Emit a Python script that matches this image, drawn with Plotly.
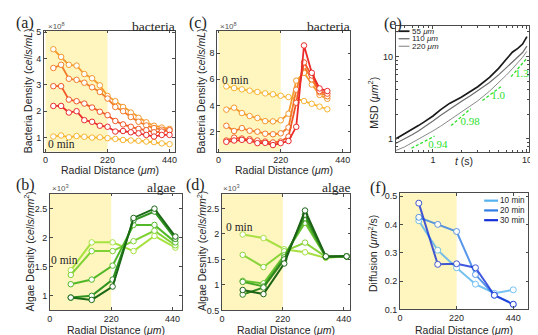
import plotly.graph_objects as go

W, H = 538, 335
SANS = "Liberation Sans, Arial, sans-serif"
SERIF = "Liberation Serif, Times New Roman, serif"
INK = "#262626"
SHADE = "#FFF5BF"

# ---------------- data ----------------
# (a) bacteria density vs radial distance (x1e8 cells/mL)
r_a = [27.5, 55, 82.5, 110, 137.5, 165, 192.5, 220, 247.5, 275, 302.5, 330, 357.5, 385, 412.5, 440]
bact_a_0 = [1.04, 1.08, 1.01, 1.06, 1.03, 1.00, 1.01, 0.98, 0.95, 0.91, 0.89, 0.88, 0.85, 0.83, 0.78, 0.75]
bact_a_1 = [4.35, 4.06, 3.76, 3.73, 3.41, 3.25, 2.98, 2.58, 2.38, 2.16, 1.95, 1.75, 1.58, 1.45, 1.38, 1.33]
bact_a_2 = [3.64, 3.76, 3.23, 3.19, 3.08, 2.91, 2.73, 2.48, 2.16, 2.00, 1.78, 1.60, 1.46, 1.36, 1.30, 1.26]
bact_a_3 = [2.95, 2.95, 2.44, 2.38, 2.29, 2.14, 1.98, 1.85, 1.63, 1.50, 1.41, 1.33, 1.28, 1.20, 1.23, 1.28]
bact_a_4 = [2.20, 2.20, 1.95, 2.00, 1.66, 1.60, 1.45, 1.41, 1.23, 1.25, 1.20, 1.16, 1.10, 1.04, 1.10, 1.10]

# (c) bacteria density, second configuration (x1e8 cells/mL)
r_c = [27.5, 55, 82.5, 110, 137.5, 165, 192.5, 220, 247.5, 275, 302.5, 330, 357.5, 385]
bact_c_0 = [5.46, 5.33, 5.23, 5.13, 5.03, 4.92, 4.85, 4.74, 4.64, 4.52, 4.33, 4.12, 3.90, 3.70]
bact_c_1 = [3.67, 3.82, 3.41, 3.18, 3.03, 2.79, 2.77, 2.85, 3.36, 5.90, 6.50, 5.60, 4.80, 4.50]
bact_c_2 = [2.43, 2.03, 2.25, 2.05, 1.98, 1.82, 1.78, 1.85, 2.30, 5.20, 7.00, 6.00, 5.00, 4.70]
bact_c_3 = [1.30, 1.52, 1.45, 1.40, 1.30, 1.22, 1.15, 1.22, 1.60, 4.20, 7.30, 6.30, 5.10, 4.90]
bact_c_4 = [1.20, 1.30, 1.35, 1.28, 1.10, 1.12, 0.95, 1.10, 1.26, 2.35, 8.60, 6.50, 5.30, 5.10]

# (b) algae density (x1e3 cells/mm^2)
r_b = [75, 150, 225, 300, 375, 450]
alg_b_0 = [1.44, 1.92, 1.92, 1.77, 2.03, 1.83]
alg_b_1 = [1.36, 1.77, 1.77, 1.94, 2.12, 1.87]
alg_b_2 = [1.20, 1.28, 1.52, 2.22, 2.22, 1.92]
alg_b_3 = [0.97, 1.00, 1.28, 2.30, 2.45, 1.98]
alg_b_4 = [0.97, 0.93, 1.16, 2.34, 2.50, 2.02]

# (d) algae density, second configuration
r_d = [75, 150, 225, 300, 375, 450]
alg_d_0 = [1.99, 1.92, 1.70, 1.64, 1.53, 1.56]
alg_d_1 = [1.59, 1.35, 1.66, 1.83, 1.55, 1.56]
alg_d_2 = [1.08, 1.03, 1.58, 2.22, 1.55, 1.56]
alg_d_3 = [1.06, 0.97, 1.54, 2.31, 1.55, 1.56]
alg_d_4 = [0.81, 0.95, 1.50, 2.38, 1.55, 1.56]
alg_d_5 = [0.90, 0.82, 1.42, 2.46, 1.56, 1.56]

# (e) MSD vs lag time
t_msd = [0.4, 0.5, 0.6, 0.7, 0.8, 1.0, 1.2, 1.5, 2.0, 2.5, 3.0, 4.0, 5.0, 6.0, 7.0, 8.0, 9.0, 10.0]
msd_55 = [1.0, 1.15, 1.3, 1.45, 1.6, 1.9, 2.25, 2.7, 3.2, 3.75, 4.3, 5.6, 7.2, 9.2, 11.3, 12.6, 14.2, 17.5]
msd_110 = [0.88, 1.0, 1.12, 1.25, 1.38, 1.65, 1.92, 2.3, 2.85, 3.35, 3.85, 4.85, 6.0, 7.3, 8.5, 9.8, 11.2, 13.4]
msd_220 = [0.72, 0.8, 0.9, 0.99, 1.08, 1.25, 1.42, 1.68, 2.1, 2.5, 2.9, 3.8, 4.8, 5.9, 7.1, 8.4, 9.8, 11.6]
msd_labels = ["55 <i>μm</i>", "110 <i>μm</i>", "220 <i>μm</i>"]

# slope guides on (e)
slope_t = [[0.59, 1.04], [1.56, 2.53], [3.36, 5.46], [6.79, 10.0]]
slope_y = [[0.77, 1.08], [1.45, 2.33], [2.93, 4.41], [5.7, 9.57]]
slope_txt = ["0.94", "0.98", "1.0", "1.3"]
slope_txt_t = [1.13, 2.49, 4.95, 8.86]
slope_txt_y = [0.83, 1.59, 3.26, 6.07]

# (f) diffusion coefficient
r_f = [73.3, 146.7, 220, 293.3, 366.7, 440]
diff_10 = [0.413, 0.309, 0.247, 0.189, 0.157, 0.169]
diff_20 = [0.425, 0.400, 0.375, 0.223, 0.150, 0.118]
diff_30 = [0.475, 0.259, 0.261, 0.247, 0.150, 0.118]
diff_labels = ["10 min", "20 min", "30 min"]

shade_end = 220

reds = ["#F7B531", "#F59A2C", "#F37C28", "#EF5826", "#EA2B2B"]
greens5 = ["#A6E23F", "#7ED233", "#52B828", "#2E9420", "#1B6916"]
greens6 = ["#A8E044", "#88D439", "#66C22F", "#48A826", "#2E861F", "#1C6317"]
grays = ["#1A1A1A", "#6E6E6E", "#8A8A8A"]
blues = ["#55B2F0", "#2F7DE6", "#1530D6"]
lime = "#2BE02B"


def px(x):
    return x / W


def py(y):
    return 1 - y / H


fig = go.Figure()


def add_profile(xa, ya, x, series, colors, size=5.5, width=1.8, opacity=1.0):
    for y, c in zip(series, colors):
        fig.add_trace(go.Scatter(
            x=x, y=y, mode="lines+markers", xaxis=xa, yaxis=ya,
            line=dict(color=c, width=width),
            marker=dict(symbol="circle", size=size, color="white", line=dict(color=c, width=1)),
            opacity=opacity, showlegend=False, hoverinfo="skip"))


add_profile("x", "y", r_a, [bact_a_0, bact_a_1, bact_a_2, bact_a_3, bact_a_4], reds)
add_profile("x2", "y2", r_c, [bact_c_0, bact_c_1, bact_c_2, bact_c_3, bact_c_4], reds)
add_profile("x4", "y4", r_b, [alg_b_0, alg_b_1, alg_b_2, alg_b_3, alg_b_4], greens5, width=2)
add_profile("x5", "y5", r_d, [alg_d_0, alg_d_1, alg_d_2, alg_d_3, alg_d_4, alg_d_5], greens6, width=2)
add_profile("x6", "y6", r_f, [diff_10, diff_20, diff_30], blues, size=6, width=2, opacity=0.8)

# MSD curves
for y, c, w in zip([msd_55, msd_110, msd_220], grays, [1.7, 1.2, 1.0]):
    fig.add_trace(go.Scatter(x=t_msd, y=y, mode="lines", xaxis="x3", yaxis="y3",
                             line=dict(color=c, width=w), showlegend=False, hoverinfo="skip"))
for st, sy in zip(slope_t, slope_y):
    fig.add_trace(go.Scatter(x=st, y=sy, mode="lines", xaxis="x3", yaxis="y3",
                             line=dict(color=lime, width=1.3, dash="3px,2px"),
                             showlegend=False, hoverinfo="skip"))
fig.add_trace(go.Scatter(x=slope_txt_t, y=slope_txt_y, text=slope_txt, mode="text",
                         xaxis="x3", yaxis="y3", textfont=dict(family=SERIF, size=11, color=lime),
                         showlegend=False, hoverinfo="skip"))


def axis(dom, rng, tickvals, anchor, vertical=False, log=False, minor_vals=None):
    if vertical:
        domain = [py(dom[1]), py(dom[0])]
    else:
        domain = [px(dom[0]), px(dom[1])]
    a = dict(domain=domain, range=rng, anchor=anchor, tickvals=tickvals,
             showline=True, mirror="ticks", linecolor="#4a4a4a", linewidth=0.8,
             ticks="inside", ticklen=3, tickwidth=0.7, tickcolor="#4a4a4a",
             tickfont=dict(family=SANS, size=9, color=INK),
             showgrid=False, zeroline=False, fixedrange=True)
    if log:
        a["type"] = "log"
        a["ticktext"] = [str(v) for v in tickvals]
    if minor_vals:
        a["minor"] = dict(tickvals=minor_vals, ticks="inside", ticklen=2, tickcolor="#4a4a4a", tickwidth=0.6)
    return a


rad_ticks = [0, 220, 440]
minor_log = [0.5, 0.6, 0.7, 0.8, 0.9, 2, 3, 4, 5, 6, 7, 8, 9, 20]

fig.update_layout(
    xaxis=axis((33.3, 166), [-6, 460], rad_ticks, "y"),
    yaxis=axis((20, 144), [0.47, 5.06], [1, 2, 3, 4, 5], "x", vertical=True),
    xaxis2=axis((208.5, 343.3), [-5, 467], rad_ticks, "y2"),
    yaxis2=axis((20, 144), [0.45, 9.75], [2, 4, 6, 8], "x2", vertical=True),
    xaxis3=axis((389, 524), [-0.397, 1.024], [1, 10], "y3", log=True, minor_vals=minor_log),
    yaxis3=axis((15, 144), [-0.154, 1.376], [1, 10], "x3", vertical=True, log=True, minor_vals=minor_log),
    xaxis4=axis((39.3, 172.7), [0, 473], rad_ticks, "y4"),
    yaxis4=axis((187, 306.7), [0.75, 2.76], [1, 1.5, 2, 2.5], "x4", vertical=True),
    xaxis5=axis((213.3, 343.3), [0, 464], rad_ticks, "y5"),
    yaxis5=axis((187.7, 306.7), [0.5, 2.78], [0.5, 1, 1.5, 2, 2.5], "x5", vertical=True),
    xaxis6=axis((393.3, 523.3), [0, 499], rad_ticks, "y6"),
    yaxis6=axis((186.7, 305.7), [0.1, 0.51], [0.1, 0.2, 0.3, 0.4, 0.5], "x6", vertical=True),
)

# shaded inner region
shapes = []
for xr, yr in [("x", "y"), ("x2", "y2"), ("x4", "y4"), ("x5", "y5"), ("x6", "y6")]:
    shapes.append(dict(type="rect", xref=xr, yref=yr + " domain", x0=0, x1=shade_end, y0=0, y1=1,
                       fillcolor=SHADE, line=dict(width=0), layer="below"))

annotations = []


def text(x, y, s, size, family=SANS, xanchor="center", yanchor="middle", color=INK, angle=0):
    annotations.append(dict(x=px(x), y=py(y), xref="paper", yref="paper", text=s, showarrow=False,
                            xanchor=xanchor, yanchor=yanchor, textangle=angle, borderpad=0,
                            font=dict(family=family, size=size, color=color)))


# panel letters
for s, x, y in [("(a)", 4, 12.5), ("(c)", 179, 12.5), ("(e)", 376, 13),
                ("(b)", 4, 178), ("(d)", 176, 178), ("(f)", 362, 181)]:
    text(x, y, s, 16, SERIF, xanchor="left")

# organism labels
for s, x, y in [("bacteria", 167, 16), ("bacteria", 344, 16), ("algae", 167, 180.5), ("algae", 344, 181)]:
    text(x, y, s, 13.5, SERIF, xanchor="right")

# exponent labels
for s, x, y in [("×10<sup>8</sup>", 36, 15), ("×10<sup>8</sup>", 210, 15),
                ("×10<sup>3</sup>", 40, 181), ("×10<sup>3</sup>", 213, 181.5)]:
    text(x, y, s, 8, xanchor="left", color="#555555")

# time stamps
for x, y in [(36, 136), (212, 70.5), (39, 255), (216, 221)]:
    text(x, y, "0 min", 11.5, SERIF, xanchor="left")

# axis titles
rad_title = "Radial Distance (<i>μm</i>)"
for x, y in [(100, 162.5), (276, 162.5), (106, 326.5), (278, 326.5), (458, 326.5)]:
    text(x, y, rad_title, 10.5)
text(458, 154, "<i>t</i> (s)", 10.5)
text(17.5, 82, "Bacteria Density (<i>cells/mL</i>)", 10.5, angle=-90)
text(192.5, 82, "Bacteria Density (<i>cells/mL</i>)", 10.5, angle=-90)
text(17.5, 246, "Algae Desnity (<i>cells/mm</i><sup>2</sup>)", 10.5, angle=-90)
text(192, 246, "Algae Desnity (<i>cells/mm</i><sup>2</sup>)", 10.5, angle=-90)
text(366, 94, "MSD (<i>μm</i><sup>2</sup>)", 10.5, angle=-90)
text(365, 248, "Diffusion (<i>μm</i><sup>2</sup>/s)", 10.5, angle=-90)

# legend of (e)
for i, (lab, c, w) in enumerate(zip(msd_labels, grays, [1.8, 1.3, 1.1])):
    yy = 20.7 + i * 7.7
    shapes.append(dict(type="line", xref="paper", yref="paper", x0=px(392), x1=px(403),
                       y0=py(yy), y1=py(yy), line=dict(color=c, width=w)))
    text(404.5, yy, lab, 8, xanchor="left")

# legend of (f)
for i, (lab, c) in enumerate(zip(diff_labels, blues)):
    yy = 194.3 + i * 10
    shapes.append(dict(type="line", xref="paper", yref="paper", x0=px(478.5), x1=px(492.5),
                       y0=py(yy), y1=py(yy), line=dict(color=c, width=2.2)))
    text(494, yy, lab, 8.2, xanchor="left")

fig.update_layout(
    width=W, height=H,
    margin=dict(l=0, r=0, t=0, b=0),
    paper_bgcolor="white", plot_bgcolor="white",
    showlegend=False,
    shapes=shapes,
    annotations=annotations,
)

fig.write_html("out.html")
